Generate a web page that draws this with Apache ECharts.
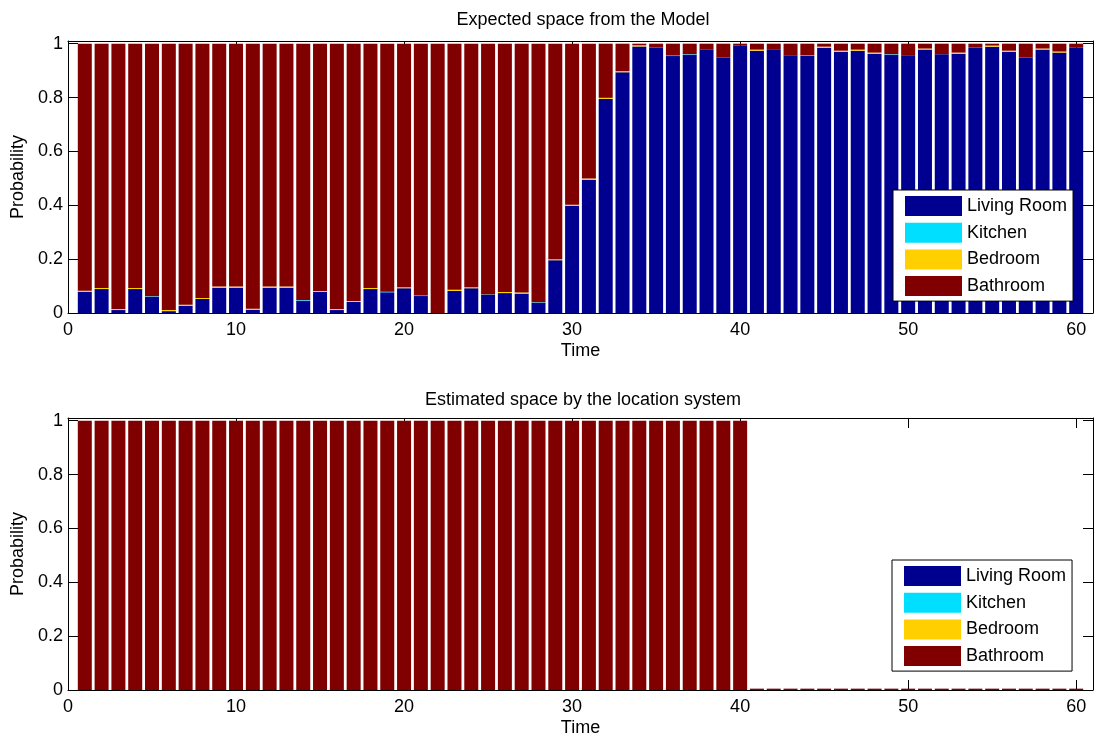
<!DOCTYPE html>
<html>
<head>
<meta charset="utf-8">
<script src="https://cdn.jsdelivr.net/npm/echarts@6/dist/echarts.min.js"></script>
<style>html,body{margin:0;padding:0;background:#fff}#c{width:1096px;height:740px}</style>
</head>
<body>
<div id="c"></div>
<script>
// ---- data ----
const time = [1,2,3,4,5,6,7,8,9,10,11,12,13,14,15,16,17,18,19,20,21,22,23,24,25,26,27,28,29,30,
              31,32,33,34,35,36,37,38,39,40,41,42,43,44,45,46,47,48,49,50,51,52,53,54,55,56,57,58,59,60];
const seriesNames = ['Living Room','Kitchen','Bedroom','Bathroom'];
const yTicks = [0,0.2,0.4,0.6,0.8,1];
const xTicks = [0,10,20,30,40,50,60];

// Top: expected space from the model
const modelLiving = [0.079,0.089,0.011,0.089,0.060,0.007,0.027,0.052,0.094,0.094,
                     0.012,0.094,0.094,0.046,0.078,0.011,0.041,0.089,0.077,0.092,
                     0.063,0.000,0.082,0.092,0.067,0.074,0.072,0.038,0.196,0.398,
                     0.495,0.795,0.894,0.990,0.986,0.954,0.959,0.978,0.948,0.993,
                     0.974,0.977,0.955,0.955,0.985,0.970,0.974,0.963,0.959,0.957,
                     0.978,0.961,0.963,0.986,0.989,0.970,0.948,0.978,0.967,0.985];
const modelKitchen = [0,0,0,0,0.002,0,0,0,0,0,
                      0,0,0,0.002,0,0,0,0,0.002,0,
                      0.002,0,0,0,0.002,0,0,0.002,0,0,
                      0,0,0,0,0,0.002,0.002,0,0,0,
                      0,0,0,0.002,0,0,0,0,0.002,0,
                      0,0,0,0,0,0,0,0,0,0];
const modelBedroom = [0.004,0.004,0.004,0.004,0,0.004,0.004,0.004,0.004,0.004,
                      0.004,0.004,0.004,0,0.004,0.004,0.004,0.004,0,0.004,
                      0,0,0.004,0.004,0,0.004,0.004,0,0.004,0.004,
                      0.004,0.004,0.004,0.004,0,0,0,0,0,0,
                      0.004,0,0,0,0.004,0.004,0.004,0.004,0,0,
                      0.004,0,0.004,0,0.004,0.004,0,0.004,0.004,0];
const modelBathroom = [0.917,0.907,0.985,0.907,0.938,0.989,0.969,0.944,0.902,0.902,
                       0.984,0.902,0.902,0.952,0.918,0.985,0.955,0.907,0.921,0.904,
                       0.935,1.000,0.914,0.904,0.931,0.922,0.924,0.960,0.800,0.598,
                       0.501,0.201,0.102,0.006,0.014,0.044,0.039,0.022,0.052,0.007,
                       0.022,0.023,0.045,0.043,0.011,0.026,0.022,0.033,0.039,0.043,
                       0.018,0.039,0.033,0.014,0.007,0.026,0.052,0.018,0.029,0.015];

// Bottom: estimated space by the location system
const locLiving   = [0,0,0,0,0,0,0,0,0,0,0,0,0,0,0,0,0,0,0,0,0,0,0,0,0,0,0,0,0,0,
                     0,0,0,0,0,0,0,0,0,0,0,0,0,0,0,0,0,0,0,0,0,0,0,0,0,0,0,0,0,0];
const locKitchen  = [0,0,0,0,0,0,0,0,0,0,0,0,0,0,0,0,0,0,0,0,0,0,0,0,0,0,0,0,0,0,
                     0,0,0,0,0,0,0,0,0,0,0,0,0,0,0,0,0,0,0,0,0,0,0,0,0,0,0,0,0,0];
const locBedroom  = [0,0,0,0,0,0,0,0,0,0,0,0,0,0,0,0,0,0,0,0,0,0,0,0,0,0,0,0,0,0,
                     0,0,0,0,0,0,0,0,0,0,0,0,0,0,0,0,0,0,0,0,0,0,0,0,0,0,0,0,0,0];
const locBathroom = [1,1,1,1,1,1,1,1,1,1,1,1,1,1,1,1,1,1,1,1,1,1,1,1,1,1,1,1,1,1,
                     1,1,1,1,1,1,1,1,1,1,0.005,0.005,0.005,0.005,0.005,0.005,0.005,0.005,0.005,0.005,
                     0.005,0.005,0.005,0.005,0.005,0.005,0.005,0.005,0.005,0.005];

const colors = ['#000090','#00dfff','#ffcf00','#800000'];
const FONT = 'Liberation Sans, Arial, Helvetica, sans-serif';

// ---- build option ----
// hidden category axis spanning 0..61 so each time step sits at its integer position
const axisCats = ['0'].concat(time.map(String), ['61']);
const grids = [
  {left: 68, right: 1, top: 41, height: 272},
  {left: 68, right: 1, top: 418, height: 272}
];
function xFmt(v){ return xTicks.indexOf(Math.round(v)) >= 0 && Math.abs(v - Math.round(v)) < 1e-6 ? String(Math.round(v)) : ''; }
function yFmt(v){ for (const t of yTicks) if (Math.abs(v - t) < 1e-6) return String(t); return ''; }

const xAxes = [], yAxes = [];
[0,1].forEach(g => {
  xAxes.push({
    type: 'category', gridIndex: g, data: axisCats, boundaryGap: false, show: false
  });
  xAxes.push({
    type: 'value', gridIndex: g, position: 'bottom', min: 0, max: 61, interval: 10,
    name: 'Time', nameLocation: 'middle', nameGap: 29,
    nameTextStyle: {fontSize: 18, color: '#000', fontFamily: FONT},
    axisLine: {show: true, onZero: false, lineStyle: {color: '#000', width: 1}},
    axisTick: {show: true, inside: true, length: 10, lineStyle: {color: '#000'}},
    axisLabel: {show: true, fontSize: 18, color: '#000', fontFamily: FONT, margin: 8, formatter: xFmt},
    splitLine: {show: false}
  });
  xAxes.push({
    type: 'value', gridIndex: g, position: 'top', min: 0, max: 61, interval: 10,
    axisLine: {show: true, onZero: false, lineStyle: {color: '#000', width: 1}},
    axisTick: {show: true, inside: true, length: 10, lineStyle: {color: '#000'}},
    axisLabel: {show: false}, splitLine: {show: false}
  });
  yAxes.push({
    type: 'value', gridIndex: g, position: 'left', min: 0, max: 1.01, interval: 0.2,
    name: 'Probability', nameLocation: 'middle', nameGap: 40, nameRotate: 90,
    nameTextStyle: {fontSize: 18, color: '#000', fontFamily: FONT},
    axisLine: {show: true, onZero: false, lineStyle: {color: '#000', width: 1}},
    axisTick: {show: true, inside: true, length: 10, lineStyle: {color: '#000'}},
    axisLabel: {show: true, fontSize: 18, color: '#000', fontFamily: FONT, margin: 5, formatter: yFmt},
    splitLine: {show: false}
  });
  yAxes.push({
    type: 'value', gridIndex: g, position: 'right', min: 0, max: 1.01, interval: 0.2,
    axisLine: {show: true, onZero: false, lineStyle: {color: '#000', width: 1}},
    axisTick: {show: true, inside: true, length: 10, lineStyle: {color: '#000'}},
    axisLabel: {show: false}, splitLine: {show: false}
  });
});

function pairs(vals){ return time.map((t, i) => [String(t), vals[i]]); }
const topVals = [modelLiving, modelKitchen, modelBedroom, modelBathroom];
const botVals = [locLiving, locKitchen, locBedroom, locBathroom];
const series = [];
seriesNames.forEach((n, k) => {
  series.push({type: 'bar', name: n, stack: 'model', xAxisIndex: 0, yAxisIndex: 0,
    barWidth: 14, data: pairs(topVals[k]), itemStyle: {color: colors[k]},
    emphasis: {disabled: true}, silent: true});
});
seriesNames.forEach((n, k) => {
  series.push({type: 'bar', name: n, stack: 'loc', xAxisIndex: 3, yAxisIndex: 2,
    barWidth: 14, data: pairs(botVals[k]), itemStyle: {color: colors[k]},
    emphasis: {disabled: true}, silent: true});
});

const legendBase = {
  orient: 'vertical', data: seriesNames, icon: 'rect', itemWidth: 57, itemHeight: 20, itemGap: 6.7,
  padding: [6, 6, 5, 12], backgroundColor: '#fff', borderColor: '#000', borderWidth: 1,
  textStyle: {fontSize: 18, color: '#000', fontFamily: FONT}, selectedMode: false
};

const option = {
  animation: false,
  backgroundColor: '#fff',
  title: [
    {text: 'Expected space from the Model', left: 583, top: 11, padding: 0, textAlign: 'center',
     textStyle: {fontSize: 18, fontWeight: 'normal', color: '#000', fontFamily: FONT}},
    {text: 'Estimated space by the location system', left: 583, top: 391, padding: 0, textAlign: 'center',
     textStyle: {fontSize: 18, fontWeight: 'normal', color: '#000', fontFamily: FONT}}
  ],
  legend: [
    Object.assign({left: 893, top: 190}, legendBase),
    Object.assign({left: 892, top: 560}, legendBase)
  ],
  grid: grids,
  xAxis: xAxes,
  yAxis: yAxes,
  series: series
};
const chart = echarts.init(document.getElementById('c'), null, {renderer: 'canvas'});
chart.setOption(option);
</script>
</body>
</html>
